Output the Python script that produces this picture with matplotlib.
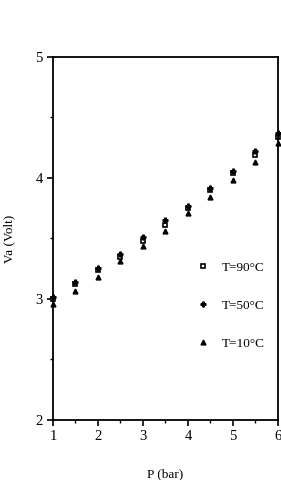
import matplotlib
matplotlib.use("Agg")
import matplotlib.pyplot as plt
from matplotlib.ticker import MultipleLocator

plt.rcParams['font.family'] = ['Liberation Serif', 'DejaVu Serif']

# data
pressure = [1, 1.5, 2, 2.5, 3, 3.5, 4, 4.5, 5, 5.5, 6]
va_90 = [3.00, 3.12, 3.24, 3.35, 3.48, 3.61, 3.75, 3.90, 4.04, 4.19, 4.34]
va_50 = [3.02, 3.14, 3.26, 3.37, 3.51, 3.65, 3.77, 3.92, 4.06, 4.22, 4.37]
va_10 = [2.96, 3.07, 3.18, 3.31, 3.44, 3.56, 3.71, 3.84, 3.98, 4.13, 4.29]
labels = ["T=90°C", "T=50°C", "T=10°C"]

fig = plt.figure(figsize=(2.81, 4.80), dpi=100)
ax = fig.add_axes([0.1886, 0.125, 0.8007, 0.7563])

ax.plot(pressure, va_90, 's', ms=3.3, mfc='white', mec='black', mew=1.2,
        ls='none', label=labels[0], clip_on=False)
ax.plot(pressure, va_50, 'P', ms=3.5, color='black', ls='none',
        label=labels[1], clip_on=False)
ax.plot(pressure, va_10, '^', ms=3.5, color='black', ls='none',
        label=labels[2], clip_on=False)

ax.set_xlim(1, 6)
ax.set_ylim(2, 5)
ax.xaxis.set_major_locator(MultipleLocator(1))
ax.xaxis.set_minor_locator(MultipleLocator(0.5))
ax.yaxis.set_major_locator(MultipleLocator(1))
ax.yaxis.set_minor_locator(MultipleLocator(0.5))
ax.tick_params(which='major', direction='out', length=4, width=1.2, labelsize=10.5)
ax.tick_params(which='minor', direction='out', length=2.5, width=1)
ax.tick_params(top=False, right=False)
for sp in ax.spines.values():
    sp.set_linewidth(1.3)

ax.set_xlabel("P (bar)", fontsize=9.5, labelpad=18)
ax.set_ylabel("Va (Volt)", fontsize=9.5, labelpad=14)

ax.legend(loc='upper left', bbox_to_anchor=(0.6, 0.455), frameon=False,
          fontsize=9.5, labelspacing=1.95, handletextpad=0.9, handlelength=1.2,
          borderpad=0)

fig.savefig("out.png", dpi=100)
